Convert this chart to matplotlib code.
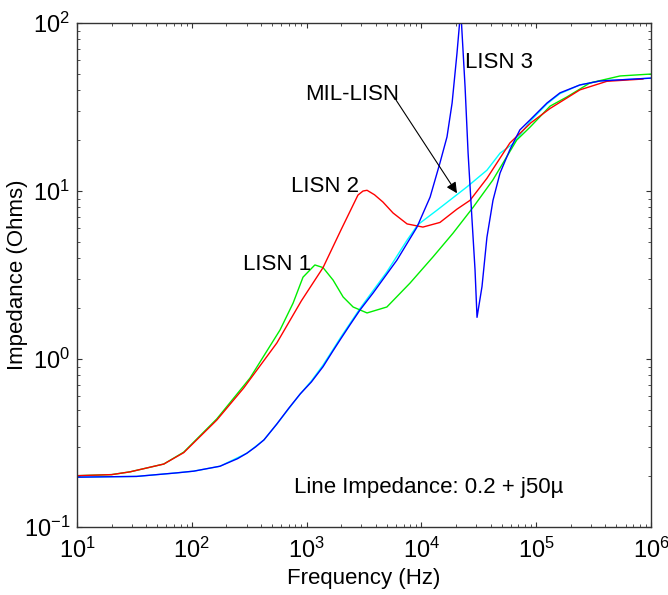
import matplotlib
matplotlib.use("Agg")
import matplotlib.pyplot as plt
from matplotlib import font_manager


def has_font(name):
    try:
        font_manager.findfont(font_manager.FontProperties(family=name),
                              fallback_to_default=False)
        return True
    except Exception:
        return False


if has_font("Liberation Sans Narrow"):
    FAMILY = ["Liberation Sans Narrow", "DejaVu Sans"]
    FS, TFS = 18, 18
else:
    FAMILY = ["Liberation Sans", "DejaVu Sans"]
    FS, TFS = 16, 17

plt.rcParams["font.family"] = FAMILY
plt.rcParams["mathtext.fontset"] = "custom"
plt.rcParams["mathtext.rm"] = FAMILY[0]
plt.rcParams["mathtext.it"] = FAMILY[0]

# ---------------- data ----------------
f_lisn1 = [10, 20, 29, 57, 85, 165, 321, 587, 762, 930, 1180, 1390, 1700, 2080,
           2540, 3360, 5000, 7950, 12600, 18800, 28200, 41800, 67600, 88300,
           132000, 185000, 294000, 537000, 1000000]
z_lisn1 = [0.202, 0.205, 0.213, 0.237, 0.279, 0.44, 0.77, 1.49, 2.15, 3.07, 3.63,
           3.5, 2.95, 2.34, 2.04, 1.88, 2.04, 2.83, 4.05, 5.6, 8.0, 11.6, 20.1,
           24.0, 32.0, 36.3, 44.0, 48.4, 49.7]

f_lisn2 = [10, 20, 29, 57, 85, 165, 283, 550, 900, 1390, 2000, 2800, 3100, 3360,
           3900, 4620, 5660, 7500, 10300, 14500, 20400, 26500, 37200, 58900, 90000,
           132000, 240000, 413000, 850000]
z_lisn2 = [0.202, 0.205, 0.213, 0.237, 0.277, 0.433, 0.672, 1.245, 2.22, 3.5, 5.9,
           9.46, 10.0, 10.1, 9.5, 8.6, 7.4, 6.37, 6.1, 6.5, 7.8, 8.8, 11.9, 19.3,
           25.5, 31.0, 40.0, 45.0, 46.4]

f_mil = [10, 33, 74, 104, 176, 302, 425, 550, 880, 1100, 1390, 1700, 2000, 2390,
         2920, 3790, 5000, 7500, 9300, 13700, 25000, 37200, 48400, 64100, 88300,
         124000, 161000, 240000, 360000, 1000000]
z_mil = [0.198, 0.2, 0.21, 0.215, 0.23, 0.275, 0.33, 0.41, 0.62, 0.74, 0.92, 1.14,
         1.36, 1.63, 2.0, 2.55, 3.3, 5.1, 6.3, 7.7, 10.6, 13.3, 16.8, 19.3, 26.0,
         33.0, 38.0, 42.8, 45.2, 47.0]

f_lisn3 = [10, 33, 74, 104, 176, 250, 302, 360, 425, 550, 700, 880, 1100, 1390,
           1700, 2000, 2390, 2920, 3790, 6120, 9150, 11900, 14500, 16700, 18500,
           20400, 22000, 24000, 25500, 27600, 29300, 30500, 33700, 37200, 42000,
           48400, 58900, 72000, 88300, 124000, 161000, 240000, 360000, 1000000]
z_lisn3 = [0.198, 0.2, 0.21, 0.215, 0.23, 0.255, 0.275, 0.30, 0.33, 0.41, 0.51,
           0.62, 0.73, 0.9, 1.12, 1.33, 1.6, 1.96, 2.47, 3.88, 6.1, 9.2, 14.7, 21.0,
           33.4, 66.0, 120.0, 41.6, 16.8, 6.7, 3.4, 1.77, 2.7, 5.3, 8.8, 12.8,
           17.6, 23.1, 26.5, 33.4, 38.4, 42.8, 45.2, 47.0]

labels = ["LISN 1", "LISN 2", "MIL-LISN", "LISN 3"]
label_pos = [(558, 3.67), (1445, 10.6), (2487, 37.3), (47400, 58.6)]
arrow_start = (6010, 34.8)
arrow_tip = (20400, 9.7)
note_text = "Line Impedance: 0.2 + j50\u00b5"
note_pos = (11530, 0.171)

# ---------------- figure ----------------
fig = plt.figure(figsize=(6.68, 5.95), dpi=100)
ax = fig.add_axes([0.1153, 0.1143, 0.8593, 0.847])

ax.plot(f_mil, z_mil, color="#00ffff", lw=1.0)
ax.plot(f_lisn1, z_lisn1, color="#00ee00", lw=1.0)
ax.plot(f_lisn2, z_lisn2, color="#ff0000", lw=1.0)
ax.plot(f_lisn3, z_lisn3, color="#0000ff", lw=1.0)

ax.set_xscale("log")
ax.set_yscale("log")
ax.set_xlim(10, 1e6)
ax.set_ylim(0.1, 100)

for txt, (x, y) in zip(labels, label_pos):
    ax.text(x, y, txt, fontsize=FS, ha="center", va="center", color="black")

ax.annotate("", xy=arrow_tip, xytext=arrow_start,
            arrowprops=dict(arrowstyle="-|>", color="black", lw=0.8,
                            mutation_scale=16, shrinkA=0, shrinkB=0))
ax.text(note_pos[0], note_pos[1], note_text, fontsize=FS, ha="center",
        va="center", color="black")

ax.set_xlabel("Frequency (Hz)", fontsize=FS)
ax.set_ylabel("Impedance (Ohms)", fontsize=FS)
ax.xaxis.set_label_coords(0.5, -0.082)
ax.yaxis.set_label_coords(-0.085, 0.5)

for s in ax.spines.values():
    s.set_color("#333333")
    s.set_linewidth(1.0)

ax.tick_params(which="both", direction="in", top=True, right=True,
               colors="#333333", labelcolor="black")
ax.tick_params(axis="x", which="major", pad=8, labelsize=TFS)
ax.tick_params(axis="y", which="major", pad=5, labelsize=TFS)

fig.savefig("out.png", dpi=100, facecolor="white")
